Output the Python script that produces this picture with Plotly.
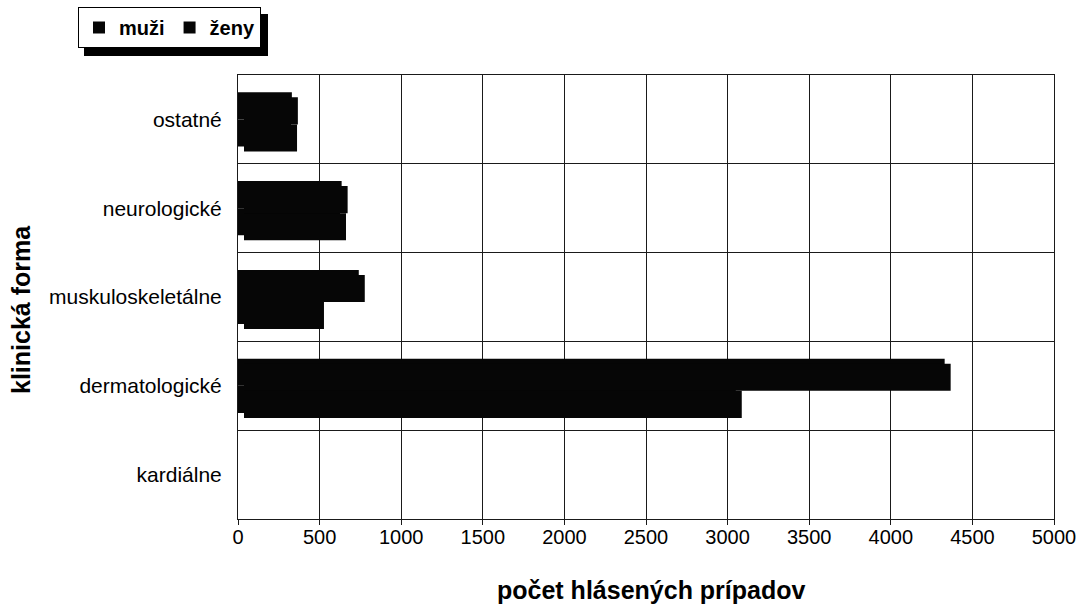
import plotly.graph_objects as go

# Lyme borreliosis: reported cases by clinical form and sex
categories = ["kardiálne", "dermatologické", "muskuloskeletálne", "neurologické", "ostatné"]
muzi = [0, 3050, 490, 625, 325]
zeny = [0, 4330, 740, 635, 330]
x_ticks = [0, 500, 1000, 1500, 2000, 2500, 3000, 3500, 4000, 4500, 5000]

FONT = "Liberation Sans, Arial, sans-serif"
BAR = "#060606"
GRID = "#1a1a1a"

W, H = 1084, 609
ML, MR, MT, MB = 238, 24, 75, 85
PW = W - ML - MR
PH = H - MT - MB
DX, DY = 6, 5  # drop-shadow offset of the bars, px

fig = go.Figure()

# drop shadows (drawn on a hidden pair of axes shifted right/down)
for name, vals in (("muži", muzi), ("ženy", zeny)):
    fig.add_trace(go.Bar(
        y=categories, x=vals, orientation="h", name=name,
        marker=dict(color=BAR, line=dict(width=0)),
        xaxis="x2", yaxis="y2", showlegend=False, hoverinfo="skip",
    ))

for name, vals in (("muži", muzi), ("ženy", zeny)):
    fig.add_trace(go.Bar(
        y=categories, x=vals, orientation="h", name=name,
        marker=dict(color=BAR, line=dict(width=0)),
    ))

axis_common = dict(range=[0, 5000])
fig.update_layout(
    width=W, height=H,
    margin=dict(l=ML, r=MR, t=MT, b=MB, autoexpand=False),
    paper_bgcolor="white", plot_bgcolor="rgba(0,0,0,0)",
    barmode="group", bargap=0.39, bargroupgap=0,
    font=dict(family=FONT, size=20, color="black"),
    xaxis=dict(
        **axis_common, domain=[0, (PW - DX) / PW],
        tickvals=x_ticks, ticktext=[str(v) for v in x_ticks],
        showgrid=True, gridcolor=GRID, gridwidth=1,
        showline=True, linecolor=GRID, linewidth=1, mirror=True,
        ticks="outside", ticklen=5, tickcolor=GRID,
        tickfont=dict(size=20), zeroline=False,
        ticklabelstandoff=-5, automargin=False,
    ),
    yaxis=dict(
        domain=[DY / PH, 1],
        categoryorder="array", categoryarray=categories,
        showgrid=True, gridcolor=GRID, gridwidth=1,
        tickson="boundaries", ticks="", ticklabelstandoff=11,
        showline=True, linecolor=GRID, linewidth=1, mirror=True,
        tickfont=dict(size=21), automargin=False,
    ),
    xaxis2=dict(**axis_common, domain=[DX / PW, 1], anchor="y2",
                visible=False, showgrid=False),
    yaxis2=dict(domain=[0, (PH - DY) / PH], anchor="x2",
                categoryorder="array", categoryarray=categories,
                visible=False, showgrid=False),
    legend=dict(
        orientation="h", x=(78 - ML) / PW, y=1 + (MT - 7) / PH,
        xanchor="left", yanchor="top",
        bgcolor="white", bordercolor="black", borderwidth=1,
        font=dict(family=FONT, size=20, weight="bold"),
        traceorder="normal", itemwidth=30,
    ),
    showlegend=True,
)

# legend drop shadow
fig.add_shape(type="rect", xref="paper", yref="paper",
              x0=(84 - ML) / PW, x1=(268 - ML) / PW,
              y0=1 + (MT - 56) / PH, y1=1 + (MT - 14) / PH,
              fillcolor="black", line=dict(width=0), layer="above")

# axis titles
fig.add_annotation(text="<b>počet hlásených prípadov</b>", xref="paper", yref="paper",
                   x=(651 - ML) / PW, y=-(590 - (H - MB)) / PH,
                   showarrow=False, font=dict(size=25), xanchor="center", yanchor="middle")
fig.add_annotation(text="<b>klinická forma</b>", xref="paper", yref="paper",
                   x=(21 - ML) / PW, y=1 - (310 - MT) / PH, textangle=-90,
                   showarrow=False, font=dict(size=25), xanchor="center", yanchor="middle")

fig.write_html("out.html")
